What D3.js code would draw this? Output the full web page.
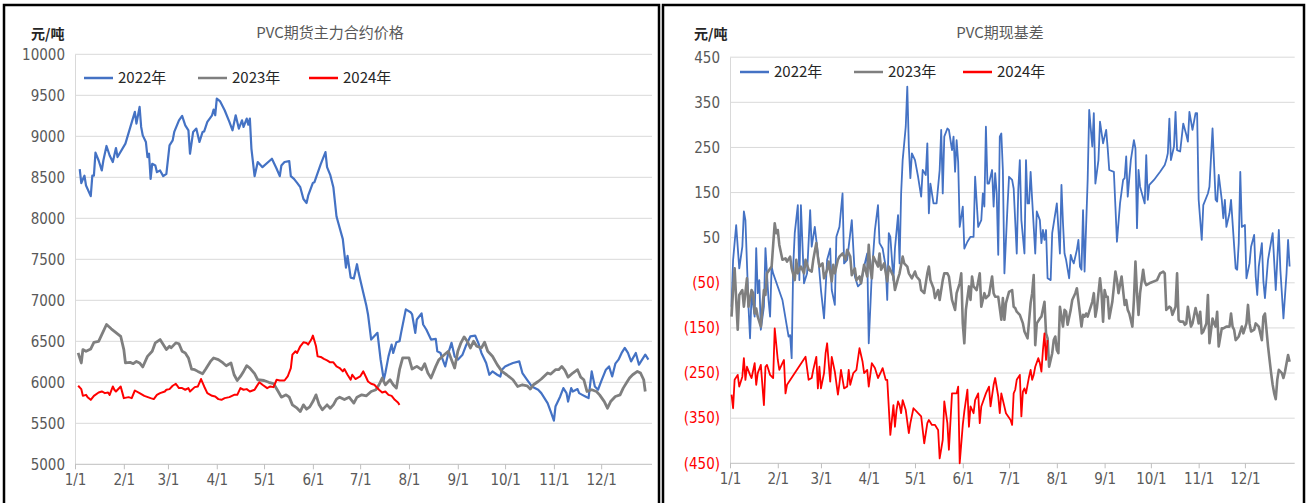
<!DOCTYPE html>
<html><head><meta charset="utf-8">
<script src="https://cdn.jsdelivr.net/npm/d3@7/dist/d3.min.js"></script>
<style>
html,body{margin:0;padding:0;background:#fff;}
svg{display:block;}
</style></head>
<body>
<svg id="c" width="1307" height="503"></svg>
<script>
// ---------- DATA ----------
const monthDays = [0,31,59,90,120,151,181,212,243,273,304,334];
const monthLabels = ["1/1","2/1","3/1","4/1","5/1","6/1","7/1","8/1","9/1","10/1","11/1","12/1"];
const seriesNames = ["2022年","2023年","2024年"];
const priceTicks = [5000,5500,6000,6500,7000,7500,8000,8500,9000,9500,10000];
const basisTicks = [-450,-350,-250,-150,-50,50,150,250,350,450];

// [day of year, value]
const price2022 = [[3,8600],[4,8430],[6,8520],[7,8400],[10,8270],[11,8520],[12,8520],[13,8800],[15,8705],[17,8583],[18,8705],[20,8882],[22,8766],[24,8686],[26,8857],[27,8747],[32,8910],[38,9298],[39,9155],[41,9359],[42,9114],[43,9011],[45,8931],[46,8747],[47,8787],[48,8481],[49,8665],[51,8644],[52,8563],[54,8583],[56,8514],[58,8542],[60,8889],[62,8950],[63,9053],[66,9195],[68,9249],[70,9134],[72,9073],[73,8787],[75,9053],[77,9094],[79,8931],[81,9053],[82,9060],[84,9176],[87,9256],[88,9326],[89,9256],[90,9460],[92,9430],[95,9318],[98,9176],[100,9073],[102,9256],[104,9094],[106,9195],[107,9114],[109,9216],[110,9142],[111,9216],[112,8848],[114,8514],[116,8686],[119,8624],[125,8726],[128,8604],[130,8514],[131,8644],[133,8686],[136,8698],[137,8514],[139,8481],[141,8432],[143,8379],[145,8236],[147,8187],[148,8276],[151,8432],[152,8441],[156,8660],[159,8808],[160,8624],[162,8530],[164,8379],[166,8022],[170,7746],[172,7399],[173,7541],[175,7277],[177,7265],[179,7440],[180,7338],[183,7093],[185,6929],[186,6827],[188,6521],[192,6603],[194,6276],[196,6031],[197,6113],[199,6316],[201,6460],[202,6358],[204,6488],[206,6500],[207,6603],[210,6889],[213,6855],[214,6827],[216,6603],[217,6766],[220,6840],[221,6705],[223,6644],[226,6521],[229,6530],[230,6378],[232,6358],[233,6297],[235,6194],[237,6358],[239,6481],[241,6316],[243,6276],[246,6337],[248,6439],[251,6561],[254,6570],[256,6481],[258,6358],[261,6236],[263,6092],[265,6133],[268,6092],[270,6071],[271,6154],[273,6194],[278,6236],[282,6255],[284,6113],[287,6031],[290,5949],[294,5909],[296,5868],[300,5746],[302,5643],[304,5533],[305,5704],[308,5827],[310,5929],[312,5868],[313,5765],[315,5929],[316,5888],[319,5917],[320,5868],[322,5847],[324,5827],[326,5807],[328,6133],[330,5949],[332,5909],[334,6010],[337,6154],[339,6194],[341,6071],[343,6227],[345,6276],[347,6358],[349,6419],[351,6358],[353,6255],[356,6358],[358,6215],[360,6276],[362,6337],[364,6276]];

const price2023 = [[2,6358],[4,6236],[5,6399],[7,6378],[10,6407],[12,6488],[15,6500],[17,6582],[20,6705],[23,6652],[29,6561],[31,6399],[32,6236],[35,6243],[37,6227],[39,6255],[41,6236],[43,6187],[46,6316],[49,6378],[51,6481],[54,6521],[56,6460],[58,6399],[60,6439],[61,6420],[64,6481],[66,6470],[68,6378],[70,6358],[72,6297],[74,6162],[76,6154],[78,6133],[81,6105],[83,6162],[86,6255],[88,6297],[91,6276],[94,6236],[96,6202],[99,6236],[101,6092],[103,6022],[105,6071],[107,6133],[109,6202],[111,6174],[114,6105],[116,6031],[120,6022],[123,6000],[126,5985],[129,5888],[131,5819],[134,5847],[136,5819],[138,5725],[141,5684],[143,5643],[145,5725],[147,5672],[149,5700],[151,5765],[153,5847],[155,5725],[157,5664],[160,5725],[162,5684],[164,5725],[166,5795],[168,5819],[171,5790],[174,5819],[177,5746],[179,5819],[182,5847],[185,5835],[188,5888],[191,5909],[193,5970],[195,6052],[197,5970],[200,6031],[202,5970],[204,5929],[206,6154],[208,6297],[212,6297],[214,6162],[217,6194],[220,6154],[222,6227],[224,6113],[226,6052],[229,6194],[231,6276],[234,6330],[237,6378],[239,6276],[241,6174],[243,6378],[245,6481],[247,6554],[249,6500],[251,6419],[253,6500],[255,6439],[258,6419],[260,6488],[262,6378],[265,6317],[268,6215],[271,6133],[274,6092],[278,6031],[281,5949],[284,5970],[287,5957],[289,5917],[291,5970],[294,6010],[296,6040],[300,6113],[302,6100],[305,6154],[307,6154],[309,6194],[311,6145],[313,6063],[316,6113],[319,6154],[321,6063],[323,6031],[325,5888],[328,5909],[331,5888],[333,5847],[336,5765],[338,5684],[340,5765],[343,5827],[346,5847],[348,5929],[350,5990],[352,6052],[354,6092],[357,6133],[359,6113],[361,6031],[362,5888]];

const price2024 = [[2,5958],[4,5917],[5,5835],[7,5847],[8,5819],[10,5786],[12,5835],[15,5876],[17,5888],[19,5868],[21,5876],[22,5847],[24,5949],[25,5909],[26,5888],[29,5949],[31,5807],[34,5819],[36,5807],[38,5900],[41,5868],[44,5835],[48,5807],[50,5795],[52,5847],[54,5868],[57,5888],[58,5909],[60,5917],[62,5958],[64,5982],[66,5929],[68,5929],[70,5909],[72,5929],[73,5888],[76,5941],[78,5949],[80,6040],[82,5949],[84,5868],[87,5835],[89,5827],[91,5795],[93,5786],[95,5807],[98,5819],[101,5847],[103,5847],[105,5929],[107,5909],[109,5917],[111,5888],[114,5909],[115,5941],[117,6000],[119,5970],[122,5929],[124,5949],[126,5941],[128,6031],[130,6022],[133,6022],[135,6071],[137,6174],[138,6337],[140,6378],[141,6358],[143,6439],[145,6488],[147,6480],[148,6460],[150,6521],[151,6570],[153,6439],[154,6316],[156,6309],[158,6285],[160,6268],[162,6243],[164,6243],[166,6194],[168,6174],[170,6133],[171,6162],[173,6092],[175,6031],[176,6092],[178,6040],[181,6071],[183,6133],[185,6052],[186,6010],[188,5982],[190,5970],[193,5909],[195,5876],[197,5888],[199,5847],[201,5835],[203,5786],[205,5754],[206,5725]];

const basis2022 = [[1,-103],[2,0],[4,78],[6,-18],[8,30],[9,108],[10,89],[12,-103],[13,-173],[14,-73],[16,-125],[17,27],[18,-73],[19,-44],[20,-154],[22,-103],[23,27],[25,-88],[26,-125],[27,-14],[28,-29],[34,-88],[38,-169],[39,-166],[40,-217],[41,-14],[42,60],[44,122],[45,-44],[46,122],[48,-51],[50,-29],[52,111],[53,30],[55,74],[57,15],[59,-66],[61,-129],[63,1],[65,26],[66,-66],[68,-99],[69,52],[71,74],[73,148],[74,-7],[76,1],[77,30],[79,89],[81,-36],[83,-58],[85,-51],[87,-14],[89,15],[90,-184],[92,-29],[94,67],[96,122],[97,38],[99,26],[101,-14],[102,-88],[103,60],[104,52],[106,-44],[107,26],[109,100],[110,-7],[111,148],[112,222],[114,296],[115,385],[116,252],[117,182],[118,237],[120,222],[122,185],[124,141],[125,200],[127,189],[128,259],[129,104],[130,170],[132,126],[134,126],[136,200],[137,289],[138,148],[139,274],[141,292],[142,289],[144,244],[145,274],[146,196],[147,266],[148,218],[149,74],[151,119],[152,26],[154,41],[156,52],[158,52],[159,185],[161,74],[163,89],[164,148],[165,119],[166,296],[167,170],[168,170],[170,200],[171,119],[172,193],[173,148],[174,12],[175,274],[176,281],[177,200],[178,-29],[180,119],[181,185],[183,178],[184,159],[186,15],[187,156],[188,222],[189,89],[191,15],[192,222],[193,126],[194,126],[195,196],[196,134],[198,15],[199,108],[201,89],[202,38],[203,67],[204,45],[205,67],[206,-40],[208,-44],[209,60],[211,104],[212,126],[214,15],[215,167],[216,82],[217,15],[218,1],[220,-40],[221,12],[222,1],[223,-7],[225,23],[226,45],[227,-14],[228,-21],[229,111],[230,-25],[232,178],[233,333],[235,252],[236,326],[237,170],[239,222],[240,307],[242,259],[244,289],[245,248],[246,200],[249,196],[250,119],[251,41],[253,126],[255,178],[256,182],[257,230],[258,141],[260,222],[262,266],[263,248],[264,71],[265,200],[266,163],[269,126],[270,233],[271,134],[272,167],[275,178],[279,196],[282,211],[283,222],[284,237],[285,314],[286,222],[288,252],[289,329],[290,244],[292,241],[294,303],[296,278],[297,263],[298,329],[300,289],[302,326],[303,326],[304,134],[306,45],[307,122],[310,148],[311,163],[313,292],[315,134],[316,130],[317,189],[319,134],[320,93],[321,134],[322,74],[324,104],[325,134],[328,-18],[329,-21],[330,38],[331,196],[332,74],[334,78],[335,-40],[337,-7],[338,30],[340,56],[341,-36],[342,-77],[343,-14],[345,38],[346,-47],[347,-84],[349,1],[351,41],[352,60],[354,-66],[356,67],[357,-21],[359,-129],[361,-29],[362,45],[363,-14]];

const basis2023 = [[1,-125],[2,-66],[3,-18],[5,-154],[6,-77],[8,-66],[9,-103],[11,-40],[12,-103],[14,-66],[15,-73],[16,-118],[17,-107],[18,-125],[20,-147],[22,-66],[23,-77],[24,-29],[27,-14],[28,34],[29,82],[30,60],[31,67],[32,34],[34,1],[36,4],[37,-3],[39,8],[40,-18],[42,-44],[43,1],[44,-29],[46,-14],[48,-29],[49,1],[51,-21],[53,-25],[54,1],[56,38],[57,8],[58,-14],[60,-7],[61,-40],[63,-21],[64,-3],[66,-47],[67,-10],[68,-29],[70,1],[71,8],[73,15],[75,1],[76,23],[78,8],[79,-33],[81,-18],[82,-44],[84,-36],[85,-51],[87,-10],[89,-36],[90,34],[91,-18],[92,-40],[93,8],[94,1],[96,-14],[97,15],[98,-21],[100,-7],[102,-47],[103,-14],[104,-21],[106,-36],[107,-66],[109,-40],[110,-29],[112,8],[113,-7],[115,-14],[116,-29],[118,-40],[120,-25],[121,-36],[123,-44],[124,-66],[126,-73],[128,-29],[129,-14],[130,-44],[132,-62],[133,-84],[135,-66],[136,-88],[138,-44],[139,-29],[141,-29],[142,-36],[144,-88],[146,-110],[147,-73],[149,-51],[150,-29],[151,-140],[152,-184],[153,-110],[155,-58],[156,-88],[157,-36],[158,-58],[160,-66],[162,-29],[163,-103],[165,-73],[166,-84],[168,-77],[170,-36],[171,-73],[172,-81],[174,-81],[176,-132],[177,-84],[178,-132],[179,-95],[181,-70],[183,-66],[184,-103],[185,-106],[186,-114],[188,-121],[190,-140],[191,-158],[193,-173],[195,-95],[196,-73],[197,-33],[198,-188],[199,-140],[201,-129],[202,-125],[204,-92],[205,-162],[206,-173],[207,-236],[209,-206],[210,-177],[211,-169],[212,-199],[213,-206],[214,-103],[216,-147],[217,-110],[218,-114],[219,-143],[221,-110],[222,-88],[224,-73],[225,-62],[227,-118],[228,-147],[229,-121],[230,-125],[231,-118],[232,-125],[233,-114],[235,-92],[236,-73],[237,-125],[238,-106],[240,-40],[241,-73],[242,-136],[243,-66],[244,-81],[245,-81],[246,-129],[248,-92],[250,-25],[251,-44],[252,-73],[254,-36],[256,-99],[257,-88],[258,-110],[259,-118],[261,-147],[262,-88],[263,-3],[264,-73],[265,-121],[266,-73],[268,-21],[269,-47],[270,-55],[272,-51],[277,-44],[279,-29],[281,-25],[282,-29],[283,-110],[285,-103],[286,-106],[287,-121],[289,-103],[290,-29],[291,-132],[292,-136],[294,-136],[295,-143],[296,-140],[297,-103],[299,-147],[300,-140],[302,-106],[303,-121],[304,-140],[305,-114],[306,-162],[307,-158],[309,-140],[310,-77],[311,-184],[313,-129],[314,-140],[315,-147],[316,-114],[317,-191],[319,-151],[320,-151],[322,-147],[324,-147],[325,-118],[326,-147],[327,-154],[328,-177],[329,-173],[330,-169],[332,-147],[333,-162],[335,-140],[336,-99],[337,-140],[338,-158],[340,-154],[341,-140],[343,-147],[344,-162],[345,-177],[346,-125],[347,-118],[349,-191],[350,-221],[351,-250],[352,-276],[353,-295],[354,-308],[355,-265],[356,-243],[358,-250],[359,-261],[360,-247],[362,-210],[363,-225]];

const basis2024 = [[1,-298],[2,-328],[3,-265],[5,-254],[6,-280],[8,-258],[9,-217],[10,-265],[11,-236],[13,-254],[14,-261],[16,-228],[17,-276],[18,-250],[20,-232],[22,-321],[23,-236],[24,-232],[26,-254],[28,-261],[29,-151],[31,-221],[32,-243],[34,-228],[35,-221],[36,-295],[37,-276],[49,-214],[51,-265],[53,-261],[54,-243],[56,-214],[57,-284],[58,-236],[59,-284],[61,-250],[62,-206],[63,-184],[65,-269],[66,-214],[68,-247],[70,-298],[71,-273],[72,-243],[74,-284],[76,-280],[77,-243],[78,-276],[80,-250],[82,-243],[84,-195],[86,-225],[87,-250],[89,-243],[90,-280],[92,-228],[94,-239],[96,-261],[98,-247],[99,-239],[101,-265],[102,-265],[104,-387],[106,-321],[107,-369],[108,-332],[109,-313],[110,-321],[111,-339],[112,-310],[114,-332],[116,-383],[117,-361],[119,-328],[122,-339],[124,-346],[126,-406],[128,-361],[129,-354],[131,-365],[133,-365],[135,-376],[136,-439],[138,-398],[139,-313],[141,-361],[142,-420],[144,-295],[147,-295],[148,-280],[149,-450],[151,-365],[152,-335],[154,-287],[155,-369],[156,-324],[158,-339],[159,-310],[161,-295],[162,-361],[163,-324],[166,-295],[168,-280],[169,-324],[171,-276],[172,-261],[174,-302],[175,-339],[176,-295],[179,-339],[182,-354],[183,-365],[184,-295],[185,-287],[186,-265],[188,-254],[189,-346],[190,-291],[191,-284],[192,-295],[193,-276],[194,-258],[195,-243],[196,-265],[197,-254],[198,-236],[200,-217],[201,-228],[202,-247],[203,-199],[204,-162],[205,-221],[206,-177]];

// ---------- DRAW ----------
const svg = d3.select("#c");
const NUM_FONT = "'Liberation Sans Narrow','DejaVu Sans Condensed','Arial Narrow',sans-serif";
const CJK_FONT = "'Liberation Sans Narrow','Noto Sans CJK SC',sans-serif";
const colors = ["#4472C4","#7F7F7F","#FF0000"];

// panel borders
svg.append("rect").attr("x",4).attr("y",5).attr("width",655).attr("height",510)
  .attr("fill","none").attr("stroke","#000").attr("stroke-width",2.5);
svg.append("rect").attr("x",663).attr("y",5).attr("width",641).attr("height",510)
  .attr("fill","none").attr("stroke","#000").attr("stroke-width",2.5);

function panel(cfg){
  const g = svg.append("g");
  const x = d3.scaleLinear().domain([0,365]).range([cfg.x0,cfg.x1]);
  const y = d3.scaleLinear().domain(cfg.yDomain).range([cfg.yBot,cfg.yTop]);

  // gridlines
  g.selectAll("line.grid").data(cfg.yTicks.slice(1)).enter().append("line")
    .attr("x1",cfg.x0).attr("x2",cfg.x1+2)
    .attr("y1",d=>y(d)).attr("y2",d=>y(d))
    .attr("stroke","#D9D9D9").attr("stroke-width",1);

  // y axis labels via d3 axis
  const ya = d3.axisLeft(y).tickValues(cfg.yTicks).tickSize(0).tickPadding(cfg.yPad).tickFormat(cfg.yFmt);
  const yg = g.append("g").attr("transform",`translate(${cfg.x0},0)`).call(ya);
  yg.select(".domain").attr("stroke","#D9D9D9");
  yg.selectAll("text").attr("font-family",NUM_FONT).attr("font-size",15)
    .attr("fill",d=>cfg.yColor(d));

  // x axis
  const xa = d3.axisBottom(x).tickValues(monthDays).tickSize(5).tickPadding(5)
    .tickFormat((d,i)=>monthLabels[i]);
  const xg = g.append("g").attr("transform",`translate(0,${cfg.yBot})`).call(xa);
  xg.select(".domain").attr("stroke","#BFBFBF").attr("d",`M${cfg.x0},0H${cfg.x1+2}`);
  xg.selectAll(".tick line").attr("stroke","#BFBFBF");
  xg.selectAll("text").attr("font-family",NUM_FONT).attr("font-size",15).attr("fill","#595959");

  // lines
  const line = d3.line().x(d=>x(d[0])).y(d=>y(d[1]));
  cfg.series.forEach((s,i)=>{
    g.append("path").datum(s).attr("d",line).attr("fill","none")
      .attr("stroke",colors[i]).attr("stroke-width",cfg.widths[i]).attr("stroke-linejoin","round");
  });

  // title & unit
  g.append("text").attr("x",cfg.titleX).attr("y",38).attr("text-anchor","middle")
    .attr("font-family",CJK_FONT).attr("font-size",15).attr("fill","#595959").text(cfg.title);
  g.append("text").attr("x",cfg.unitX).attr("y",39)
    .attr("font-family",CJK_FONT).attr("font-size",14).attr("font-weight","bold").attr("fill","#262626").text("元/吨");

  // legend
  cfg.legend.forEach((lx,i)=>{
    g.append("line").attr("x1",lx).attr("x2",lx+29).attr("y1",cfg.legY).attr("y2",cfg.legY)
      .attr("stroke",colors[i]).attr("stroke-width",2.5);
    g.append("text").attr("x",lx+34).attr("y",cfg.legY+5)
      .attr("font-family",CJK_FONT).attr("font-size",15).attr("fill","#262626").text(seriesNames[i]);
  });
}

panel({
  x0:75, x1:650, yTop:54.3, yBot:464.3, yDomain:[5000,10000], yTicks:priceTicks, yPad:10,
  yFmt:d=>String(d), yColor:()=>"#595959",
  series:[price2022,price2023,price2024], widths:[2.2,2.8,2],
  title:"PVC期货主力合约价格", titleX:330, unitX:31,
  legend:[84,198,309], legY:78
});
panel({
  x0:730, x1:1292.7, yTop:57.2, yBot:463.3, yDomain:[-450,450], yTicks:basisTicks, yPad:10,
  yFmt:d=>d<0?`(${-d})`:String(d), yColor:d=>d<0?"#FF0000":"#595959",
  series:[basis2022,basis2023,basis2024], widths:[1.8,2.6,1.8],
  title:"PVC期现基差", titleX:1000, unitX:694,
  legend:[740,854,963], legY:72
});
</script>
</body></html>
